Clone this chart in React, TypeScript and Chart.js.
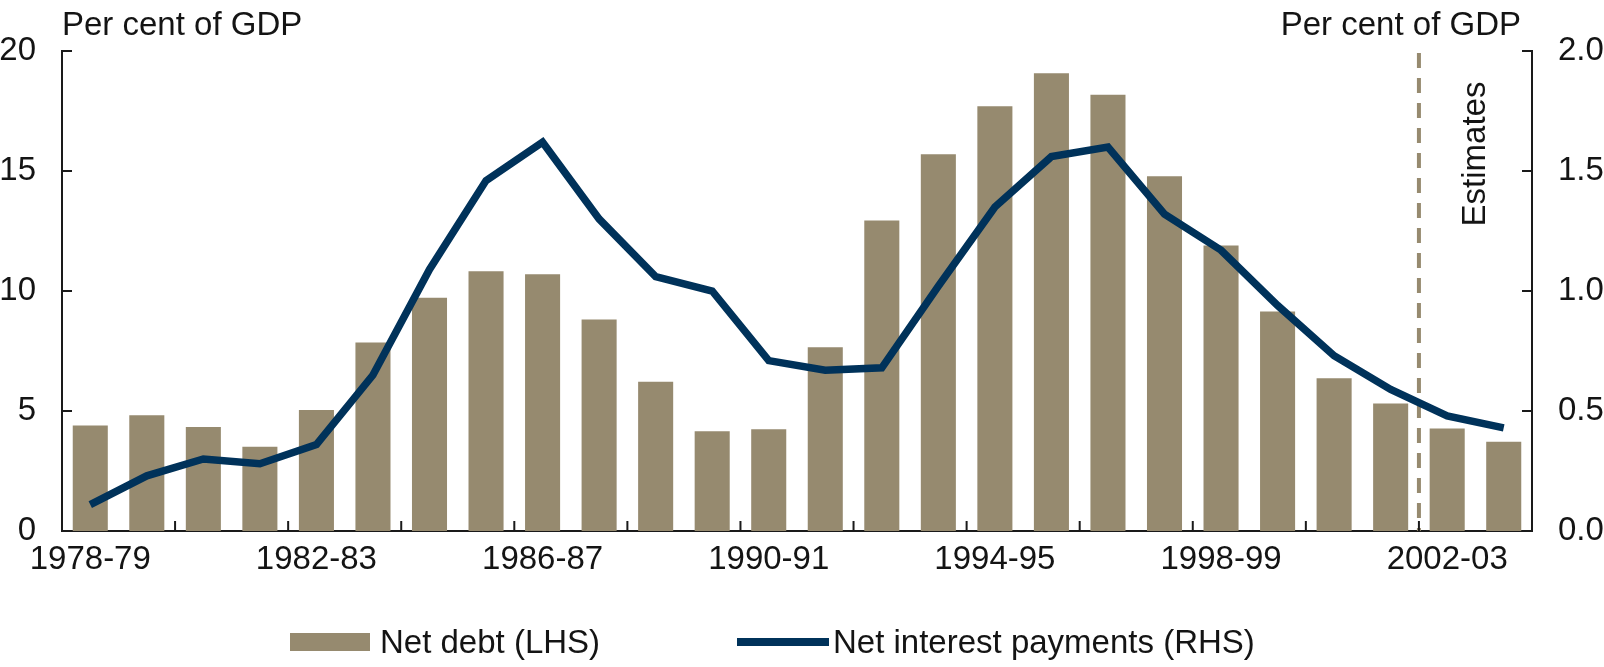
import React, { useRef, useEffect } from 'react'
import { Chart, registerables } from 'chart.js'
import type { Plugin } from 'chart.js'

Chart.register(...registerables)

const FONT = '"Liberation Sans", Arial, sans-serif'
const FONT_SIZE = 33
const TEXT_COLOR = '#141414'
const AXIS_COLOR = '#1a1a1a'
const DEBT_COLOR = '#968a6f'
const INTEREST_COLOR = '#00325a'

// financial years, one bar each
const YEARS = [
  '1978-79', '1979-80', '1980-81', '1981-82', '1982-83', '1983-84', '1984-85',
  '1985-86', '1986-87', '1987-88', '1988-89', '1989-90', '1990-91', '1991-92',
  '1992-93', '1993-94', '1994-95', '1995-96', '1996-97', '1997-98', '1998-99',
  '1999-00', '2000-01', '2001-02', '2002-03', '2003-04',
]

// Net debt, per cent of GDP (LHS)
const NET_DEBT = [
  4.4, 4.82, 4.33, 3.51, 5.04, 7.85, 9.72, 10.82, 10.7, 8.81, 6.22, 4.16, 4.24,
  7.66, 12.94, 15.7, 17.7, 19.07, 18.18, 14.78, 11.9, 9.15, 6.36, 5.31, 4.27, 3.72,
]

// Net interest payments, per cent of GDP (RHS)
const NET_INTEREST = [
  0.11, 0.23, 0.3, 0.28, 0.36, 0.65, 1.09, 1.46, 1.62, 1.3, 1.06, 1.0, 0.71,
  0.67, 0.68, 1.02, 1.35, 1.56, 1.6, 1.32, 1.17, 0.94, 0.73, 0.59, 0.48, 0.43,
]

const LHS_TICKS = [0, 5, 10, 15, 20]
const RHS_TICKS = [0, 0.5, 1.0, 1.5, 2.0]
const LABEL_EVERY = 4
const TICK_EVERY = 2
const ESTIMATES_FROM = '2002-03'

const DEBT_LABEL = 'Net debt (LHS)'
const INTEREST_LABEL = 'Net interest payments (RHS)'
const UNIT_LABEL = 'Per cent of GDP'

// pixel x of the gap just before category i
const gapBefore = (chart: Chart, i: number) => {
  const x = chart.scales.x
  return (x.getPixelForValue(i - 1) + x.getPixelForValue(i)) / 2
}

// inward tick marks, unit titles, estimates marker
const decorations: Plugin<'bar'> = {
  id: 'decorations',
  beforeDatasetsDraw(chart) {
    const { ctx, chartArea: a } = chart
    const bx = gapBefore(chart as any, YEARS.indexOf(ESTIMATES_FROM))
    ctx.save()
    ctx.strokeStyle = DEBT_COLOR
    ctx.lineWidth = 4
    ctx.setLineDash([15, 10])
    ctx.beginPath()
    ctx.moveTo(bx, a.top + 2)
    ctx.lineTo(bx, a.bottom)
    ctx.stroke()
    ctx.restore()
  },
  afterDraw(chart) {
    const { ctx, chartArea: a, scales } = chart
    const y = scales.y
    const y1 = scales.y1
    ctx.save()
    ctx.strokeStyle = AXIS_COLOR
    ctx.lineWidth = 2
    ctx.beginPath()
    for (let i = TICK_EVERY; i < YEARS.length; i += TICK_EVERY) {
      const px = gapBefore(chart as any, i)
      ctx.moveTo(px, a.bottom)
      ctx.lineTo(px, a.bottom - 10)
    }
    LHS_TICKS.forEach((v) => {
      if (v === 0) return
      const py = y.getPixelForValue(v)
      ctx.moveTo(a.left, py)
      ctx.lineTo(a.left + 10, py)
    })
    RHS_TICKS.forEach((v) => {
      if (v === 0) return
      const py = y1.getPixelForValue(v)
      ctx.moveTo(a.right, py)
      ctx.lineTo(a.right - 10, py)
    })
    ctx.stroke()

    ctx.fillStyle = TEXT_COLOR
    ctx.font = `${FONT_SIZE}px ${FONT}`
    ctx.textBaseline = 'alphabetic'
    ctx.textAlign = 'left'
    ctx.fillText(UNIT_LABEL, a.left, a.top - 16)
    ctx.textAlign = 'right'
    ctx.fillText(UNIT_LABEL, a.right - 11, a.top - 16)

    const bx = gapBefore(chart as any, YEARS.indexOf(ESTIMATES_FROM))
    ctx.translate(bx + 57, a.top + 103)
    ctx.rotate(-Math.PI / 2)
    ctx.textAlign = 'center'
    ctx.textBaseline = 'middle'
    ctx.fillText('Estimates', 0, 0)
    ctx.restore()
  },
}

const App: React.FC = () => {
  const canvasRef = useRef<HTMLCanvasElement>(null)

  useEffect(() => {
    const canvas = canvasRef.current
    if (!canvas) return

    const tickFont = { family: FONT, size: FONT_SIZE }
    const border = { display: true, color: AXIS_COLOR, width: 2 }
    const noGrid = { display: false, drawTicks: false }

    const chart = new Chart(canvas, {
      type: 'bar',
      data: {
        labels: YEARS,
        datasets: [
          {
            type: 'line',
            label: INTEREST_LABEL,
            data: NET_INTEREST,
            yAxisID: 'y1',
            borderColor: INTEREST_COLOR,
            backgroundColor: INTEREST_COLOR,
            borderWidth: 7.5,
            pointRadius: 0,
            tension: 0,
            borderJoinStyle: 'miter',
            order: 0,
          } as any,
          {
            type: 'bar',
            label: DEBT_LABEL,
            data: NET_DEBT,
            yAxisID: 'y',
            backgroundColor: DEBT_COLOR,
            barPercentage: 0.62,
            categoryPercentage: 1.0,
            order: 1,
          },
        ],
      },
      options: {
        animation: false,
        responsive: true,
        maintainAspectRatio: false,
        layout: { padding: { top: 51, left: 0, right: 0, bottom: 70 } },
        plugins: {
          legend: { display: false },
          tooltip: { enabled: false },
        },
        scales: {
          x: {
            type: 'category',
            grid: noGrid,
            border,
            afterFit: (s) => {
              s.height = 66
            },
            ticks: {
              autoSkip: false,
              maxRotation: 0,
              minRotation: 0,
              padding: 9,
              color: TEXT_COLOR,
              font: tickFont,
              callback: (_v, i) => (i % LABEL_EVERY === 0 ? YEARS[i] : ''),
            },
          },
          y: {
            position: 'left',
            min: LHS_TICKS[0],
            max: LHS_TICKS[LHS_TICKS.length - 1],
            grid: noGrid,
            border,
            afterFit: (s) => {
              s.width = 62
            },
            ticks: { stepSize: 5, padding: 26, color: TEXT_COLOR, font: tickFont },
          },
          y1: {
            position: 'right',
            min: RHS_TICKS[0],
            max: RHS_TICKS[RHS_TICKS.length - 1],
            grid: noGrid,
            border,
            afterFit: (s) => {
              s.width = 72
            },
            ticks: {
              stepSize: 0.5,
              padding: 26,
              color: TEXT_COLOR,
              font: tickFont,
              callback: (v) => Number(v).toFixed(1),
            },
          },
        },
      },
      plugins: [decorations],
    })

    return () => {
      chart.destroy()
    }
  }, [])

  const legendText: React.CSSProperties = {
    font: `${FONT_SIZE}px ${FONT}`,
    color: TEXT_COLOR,
    whiteSpace: 'nowrap',
  }

  return (
    <div style={{ position: 'absolute', left: 0, top: 0, width: 1604, height: 667, background: '#fff' }}>
      <canvas ref={canvasRef} />
      <div style={{ position: 'absolute', left: 290, top: 622, height: 40, display: 'flex', alignItems: 'center' }}>
        <span style={{ width: 80, height: 18, background: DEBT_COLOR, marginRight: 10 }} />
        <span style={legendText}>{DEBT_LABEL}</span>
      </div>
      <div style={{ position: 'absolute', left: 737, top: 622, height: 40, display: 'flex', alignItems: 'center' }}>
        <span style={{ width: 92, height: 8, background: INTEREST_COLOR, marginRight: 4 }} />
        <span style={legendText}>{INTEREST_LABEL}</span>
      </div>
    </div>
  )
}

export default App
